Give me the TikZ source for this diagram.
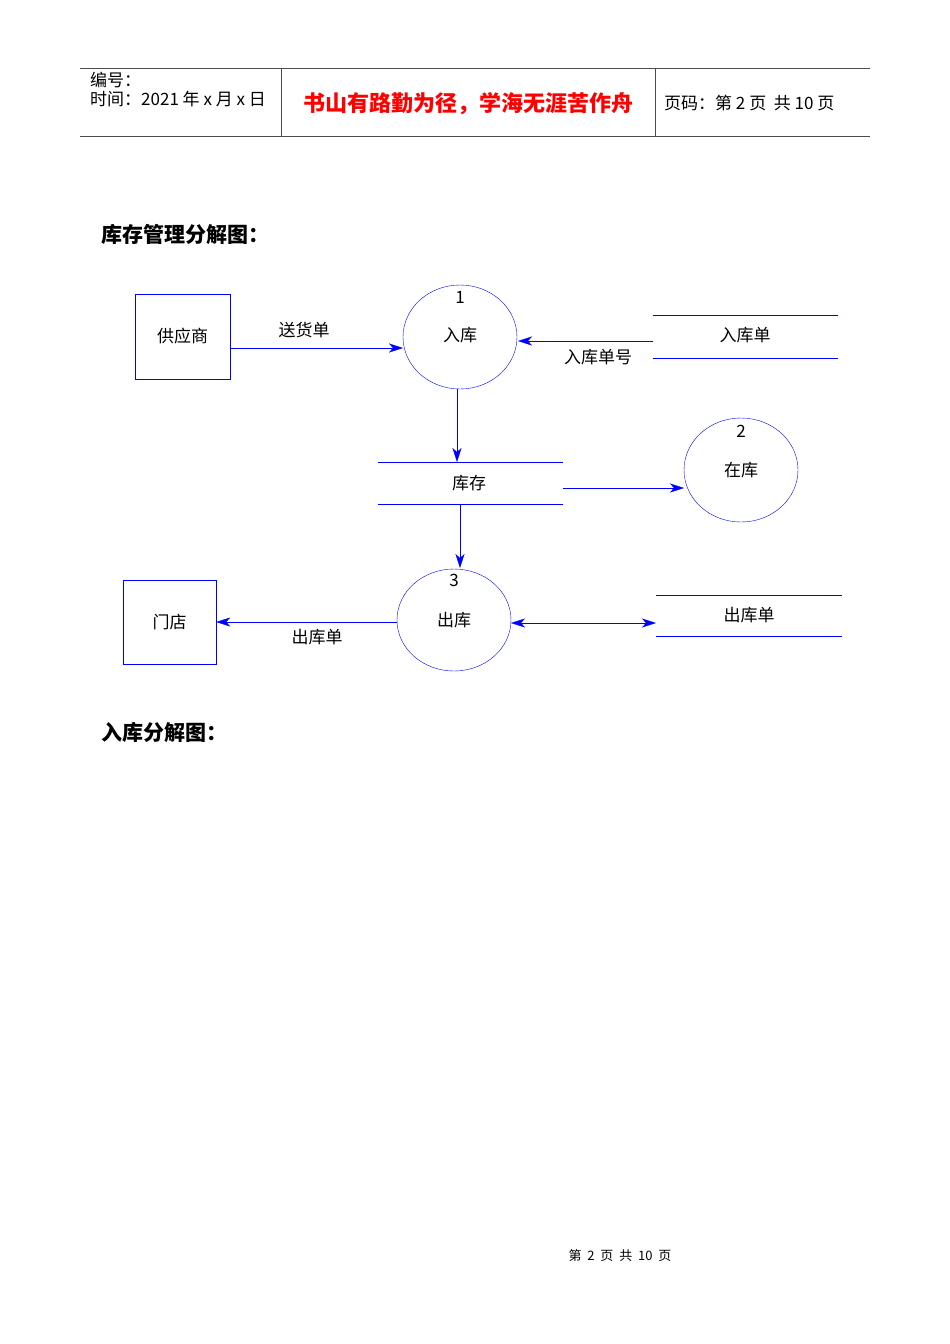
\documentclass[tikz,border=0pt]{standalone}
\usepackage{fontspec}
\setmainfont{Liberation Sans}
\newfontfamily\cjk{Noto Sans CJK SC}
\usetikzlibrary{shapes.geometric,arrows.meta}
\begin{document}
\begin{tikzpicture}[x=1pt,y=-1pt,
  lbl/.style={font=\cjk\fontsize{17}{17}\selectfont,inner sep=0},
  proc/.style={draw=blue,ellipse,minimum width=114,minimum height=104,inner sep=0},
  ext/.style={draw=blue,rectangle,inner sep=0},
  flow/.style={draw=blue,-{Stealth[length=14,width=9,inset=4]}},
  st/.style={draw=blue}]
\useasboundingbox (0,0) rectangle (950,1344);
% header
\draw[black!70] (80,68) -- (870,68) (80,136) -- (870,136) (281,68) -- (281,136) (655,68) -- (655,136);
\node[lbl,anchor=west] (h1) at (90,80) {编号：};
\node[lbl,anchor=west] (h2) at (90,99) {时间：2021 年 x 月 x 日};
\node[font=\cjk\bfseries\fontsize{22}{22}\selectfont,text=red,inner sep=0] (h3) at (468,104) {书山有路勤为径，学海无涯苦作舟};
\node[lbl,anchor=west] (h4) at (664,103) {页码：第 2 页 \ 共 10 页};
\node[font=\cjk\bfseries\fontsize{21}{21}\selectfont,anchor=west,inner sep=0] (t1) at (101,234) {库存管理分解图：};
\node[font=\cjk\bfseries\fontsize{21}{21}\selectfont,anchor=west,inner sep=0] (t2) at (101,732) {入库分解图：};
\node[font=\cjk\fontsize{13}{13}\selectfont,inner sep=0] (ft) at (620,1256) {第 \ 2 \ 页 \ 共 \ 10 \ 页};
% entities
\node[ext,minimum width=95,minimum height=85] (sup) at (182.5,336.5) {};
\node[lbl] at (sup) {供应商};
\node[ext,minimum width=93,minimum height=84] (shop) at (169.5,622) {};
\node[lbl] at (shop) {门店};
% processes
\node[proc] (p1) at (460,337) {};
\node[lbl] at (460,297) {1};
\node[lbl] at (460,335) {入库};
\node[proc] (p2) at (741,470) {};
\node[lbl] at (741,431) {2};
\node[lbl] at (741,470) {在库};
\node[proc,minimum height=102] (p3) at (454,620) {};
\node[lbl] at (454,580) {3};
\node[lbl] at (454,620) {出库};
% stores
\draw[st] (653,315) -- (838,315) (653,358) -- (838,358);
\node[lbl] (s1) at (745,335) {入库单};
\draw[st] (378,462) -- (563,462) (378,504) -- (563,504);
\node[lbl] (s2) at (469,483) {库存};
\draw[st] (656,595) -- (842,595) (656,636) -- (842,636);
\node[lbl] (s3) at (749,615) {出库单};
\coordinate (s1l) at (653,341);
\coordinate (s2t) at (457,462);
\coordinate (s2r) at (563,488);
\coordinate (s2b) at (460,504);
\coordinate (s3l) at (656,623);
% flows
\draw[flow] (sup.east |- 0,348) -- (403,348);
\node[lbl] at (304,330) {送货单};
\draw[flow] (s1l) -- (518,341);
\node[lbl] at (598,357) {入库单号};
\draw[flow] (457,389) -- (s2t);
\draw[flow] (s2r) -- (684,488);
\draw[flow] (s2b) -- (460,568);
\draw[flow] (397,622) -- (shop.east |- 0,622);
\node[lbl] at (317,637) {出库单};
\draw[flow,{Stealth[length=14,width=9,inset=4]}-{Stealth[length=14,width=9,inset=4]}] (511,623) -- (s3l);
\end{tikzpicture}
\end{document}
